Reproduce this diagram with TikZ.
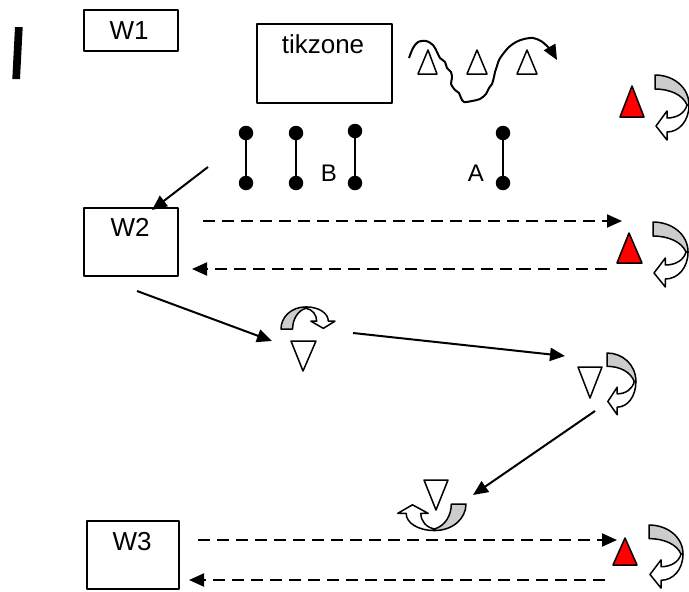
\documentclass[tikz,border=0pt]{standalone}
\usepackage{fontspec}
\setmainfont{Liberation Sans}
\usetikzlibrary{arrows.meta}
\begin{document}
\begin{tikzpicture}[x=1pt,y=-1pt,
  line join=round,
  tip/.style={-{Triangle[length=15pt,width=13pt]}},
  box/.style={draw, line width=1.5pt, anchor=north west, inner sep=0pt},
  lbl/.style={font=\fontsize{26}{30}\selectfont, anchor=base, inner sep=0pt},
  small/.style={font=\fontsize{24}{28}\selectfont, anchor=base, inner sep=0pt},
  conn/.style={line width=2pt},
  dashconn/.style={line width=2pt, dash pattern=on 12pt off 7pt},
  rod/.style={line width=2.6pt},
  dot/.style={circle, fill=black, inner sep=0pt, minimum size=14.5pt},
  hollow/.style={draw, line width=1.5pt, fill=white},
  redtri/.style={draw, line width=1.5pt, fill=red},
  curl/.pic={
    % back of the band (grey)
    \filldraw[line width=1.5pt, fill=gray!40]
      (0,0) .. controls (18,0) and (34,12) .. (34,30) -- (32,30)
      .. controls (28,20) and (15,14) .. (0,14) -- cycle;
    % front of the band with its head (white)
    \filldraw[line width=1.5pt, fill=white]
      (34,30) .. controls (34,46) and (24,57) .. (12,57) -- (12,65) -- (1,51)
      -- (12,36) -- (12,43) .. controls (22,43) and (30,38) .. (32,30) -- cycle;
  }]
\useasboundingbox (0,0) rectangle (689,592);

% the heavy stroke at top left
\fill (15,27) -- (22.7,27) -- (20,79) -- (12.3,79) -- cycle;

% boxes
\node[box, minimum width=94pt, minimum height=41pt] (w1) at (83,9) {};
\node[lbl] (w1t) at (129,39) {W1};
\node[box, minimum width=135pt, minimum height=79pt] (tz) at (256,23) {};
\node[lbl] (tzt) at (323,53) {tikzone};
\node[box, minimum width=94pt, minimum height=68pt] (w2) at (83,207) {};
\node[lbl] (w2t) at (130,236) {W2};
\node[box, minimum width=92pt, minimum height=68pt] (w3) at (86,520) {};
\node[lbl] (w3t) at (132,550) {W3};

% wavy arrow with open triangles
\draw[conn, tip] plot[smooth, tension=0.5] coordinates {
  (409,58) (413,48) (418,42) (426,41) (433,45) (437,52) (440,58) (445,62)
  (447,68) (451,72) (452,78) (451,84) (455,90) (459,93) (461,98) (464,102)
  (472,101) (480,99) (486,94) (489,88) (492,84) (494,77) (495,72) (497,66)
  (499,60) (503,54) (509,47) (516,42) (524,39) (533,38) (541,41) (548,47) (553,53)}
  -- (557,60);
\path[hollow] (418,74) -- (428,50) -- (437,74) -- cycle;
\path[hollow] (467,74) -- (477,50) -- (487,74) -- cycle;
\path[hollow] (517,74) -- (527,50) -- (537,74) -- cycle;

% dumbbells
\foreach \n/\x/\t in {d1/246/133, d2/296/133, d3/355/131, d4/503/133}{
  \node[dot] (\n a) at (\x,\t) {};
  \node[dot] (\n b) at (\x,183) {};
  \draw[rod] (\n a) -- (\n b);
}
\node[small] (lb) at (329,181) {B};
\node[small] (la) at (476,181) {A};

% red triangles and curled arrows on the right
\path[redtri] (620,117) -- (632,86) -- (644,117) -- cycle;
\path[redtri] (617,263) -- (629,233) -- (642,263) -- cycle;
\path[redtri] (613,565) -- (625,538) -- (637,565) -- cycle;
\pic at (655,75) {curl};
\pic[xscale=1.03] at (653,222) {curl};
\pic[yscale=0.97] at (649,525) {curl};

% open down triangles with their curled arrows
\path[hollow] (291,341) -- (316,341) -- (303,371) -- cycle;
\path[hollow] (578,367) -- (602,367) -- (590,398) -- cycle;
\path[hollow] (424,480) -- (448,480) -- (436,510) -- cycle;
\pic[xscale=0.85, yscale=0.95] at (607,353) {curl};
\pic[rotate=90, xscale=0.65, yscale=0.83] at (281,329) {curl};
\pic[rotate=-90, xscale=0.78, yscale=1.05] at (466,504) {curl};

% connector end points
\coordinate (s1) at (208,167);
\coordinate (e1) at (152,210);
\coordinate (s2) at (203,221);
\coordinate (e2) at (622,221);
\coordinate (s3) at (607,269);
\coordinate (e3) at (192,269);
\coordinate (s4) at (137,291);
\coordinate (e4) at (272,341);
\coordinate (s5) at (353,333);
\coordinate (e5) at (565,356);
\coordinate (s6) at (595,411);
\coordinate (e6) at (473,495);
\coordinate (s7) at (198,540);
\coordinate (e7) at (617,540);
\coordinate (s8) at (605,580);
\coordinate (e8) at (189,580);

% connectors
\draw[conn, tip] (s1) -- (e1);
\draw[dashconn, tip] (s2) -- (e2);
\draw[dashconn, tip] (s3) -- (e3);
\draw[conn, tip] (s4) -- (e4);
\draw[conn, tip] (s5) -- (e5);
\draw[conn, tip] (s6) -- (e6);
\draw[dashconn, tip] (s7) -- (e7);
\draw[dashconn, tip] (s8) -- (e8);
\end{tikzpicture}
\end{document}
